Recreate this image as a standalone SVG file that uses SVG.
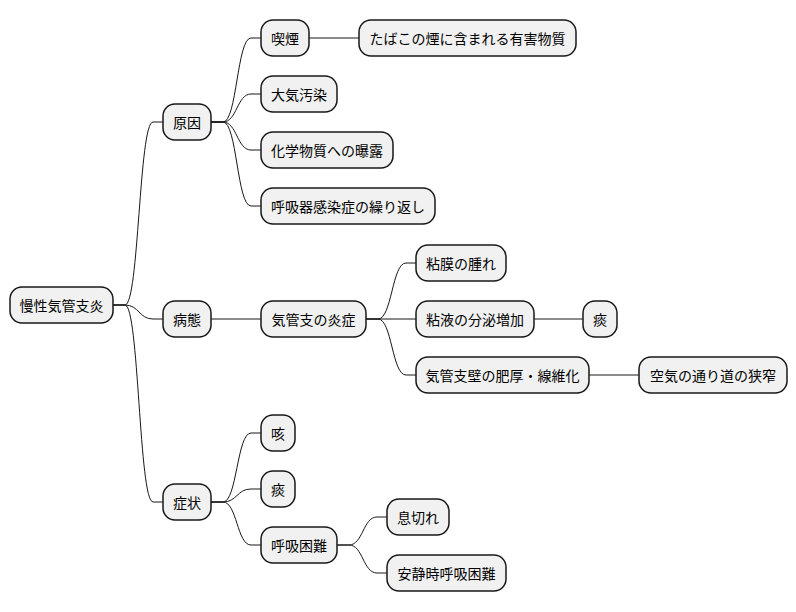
<svg xmlns="http://www.w3.org/2000/svg" width="796" height="612" viewBox="0 0 796 612">
<style>
.n rect{fill:#f1f1f1;stroke:#181818;stroke-width:1.5}
.n text{font-family:"Noto Sans CJK JP","Noto Sans",sans-serif;font-size:14px;fill:#000;text-anchor:middle;dominant-baseline:central}
#edges path{fill:none;stroke:#181818;stroke-width:1}
</style>
<rect width="796" height="612" fill="#fff"/>
<g id="edges">
<path d="M113,305 H125 C139,305 139,122 153,122 H163"/>
<path d="M113,305 H125 C139,305 139,319 153,319 H163"/>
<path d="M113,305 H125 C139,305 139,502 153,502 H163"/>
<path d="M211,122 H223 C237,122 237,38 251,38 H261"/>
<path d="M211,122 H223 C237,122 237,94 251,94 H261"/>
<path d="M211,122 H223 C237,122 237,150 251,150 H261"/>
<path d="M211,122 H223 C237,122 237,206 251,206 H261"/>
<path d="M309,38 H359"/>
<path d="M211,319 H261"/>
<path d="M366,319 H378 C392,319 392,263 406,263 H416"/>
<path d="M366,319 H416"/>
<path d="M366,319 H378 C392,319 392,375 406,375 H416"/>
<path d="M534,319 H583"/>
<path d="M589,375 H639"/>
<path d="M211,502 H223 C237,502 237,433 251,433 H261"/>
<path d="M211,502 H223 C237,502 237,489 251,489 H261"/>
<path d="M211,502 H223 C237,502 237,545 251,545 H261"/>
<path d="M337,545 H349 C363,545 363,517 377,517 H387"/>
<path d="M337,545 H349 C363,545 363,573 377,573 H387"/>
</g>
<g id="root" class="n"><rect x="10" y="287" width="103" height="36" rx="12"/><text x="61.5" y="305">慢性気管支炎</text></g>
<g id="cause" class="n"><rect x="163" y="104" width="48" height="36" rx="12"/><text x="187" y="122">原因</text></g>
<g id="smoking" class="n"><rect x="261" y="20" width="48" height="36" rx="12"/><text x="285" y="38">喫煙</text></g>
<g id="tobacco" class="n"><rect x="359" y="20" width="217" height="36" rx="12"/><text x="467.5" y="38">たばこの煙に含まれる有害物質</text></g>
<g id="air" class="n"><rect x="261" y="76" width="76" height="36" rx="12"/><text x="299" y="94">大気汚染</text></g>
<g id="chem" class="n"><rect x="261" y="132" width="132" height="36" rx="12"/><text x="327" y="150">化学物質への曝露</text></g>
<g id="infect" class="n"><rect x="261" y="188" width="174" height="36" rx="12"/><text x="348" y="206">呼吸器感染症の繰り返し</text></g>
<g id="patho" class="n"><rect x="163" y="301" width="48" height="36" rx="12"/><text x="187" y="319">病態</text></g>
<g id="inflam" class="n"><rect x="261" y="301" width="105" height="36" rx="12"/><text x="313.5" y="319">気管支の炎症</text></g>
<g id="swell" class="n"><rect x="416" y="245" width="90" height="36" rx="12"/><text x="461" y="263">粘膜の腫れ</text></g>
<g id="mucus" class="n"><rect x="416" y="301" width="118" height="36" rx="12"/><text x="475" y="319">粘液の分泌増加</text></g>
<g id="sputum1" class="n"><rect x="583" y="301" width="34" height="36" rx="12"/><text x="600" y="319">痰</text></g>
<g id="wall" class="n"><rect x="416" y="357" width="173" height="36" rx="12"/><text x="502.5" y="375">気管支壁の肥厚・線維化</text></g>
<g id="narrow" class="n"><rect x="639" y="357" width="148" height="36" rx="12"/><text x="713" y="375">空気の通り道の狭窄</text></g>
<g id="symptom" class="n"><rect x="163" y="484" width="48" height="36" rx="12"/><text x="187" y="502">症状</text></g>
<g id="cough" class="n"><rect x="261" y="415" width="34" height="36" rx="12"/><text x="278" y="433">咳</text></g>
<g id="sputum2" class="n"><rect x="261" y="471" width="34" height="36" rx="12"/><text x="278" y="489">痰</text></g>
<g id="dyspnea" class="n"><rect x="261" y="527" width="76" height="36" rx="12"/><text x="299" y="545">呼吸困難</text></g>
<g id="breath" class="n"><rect x="387" y="499" width="62" height="36" rx="12"/><text x="418" y="517">息切れ</text></g>
<g id="rest" class="n"><rect x="387" y="555" width="119" height="36" rx="12"/><text x="446.5" y="573">安静時呼吸困難</text></g>
</svg>
